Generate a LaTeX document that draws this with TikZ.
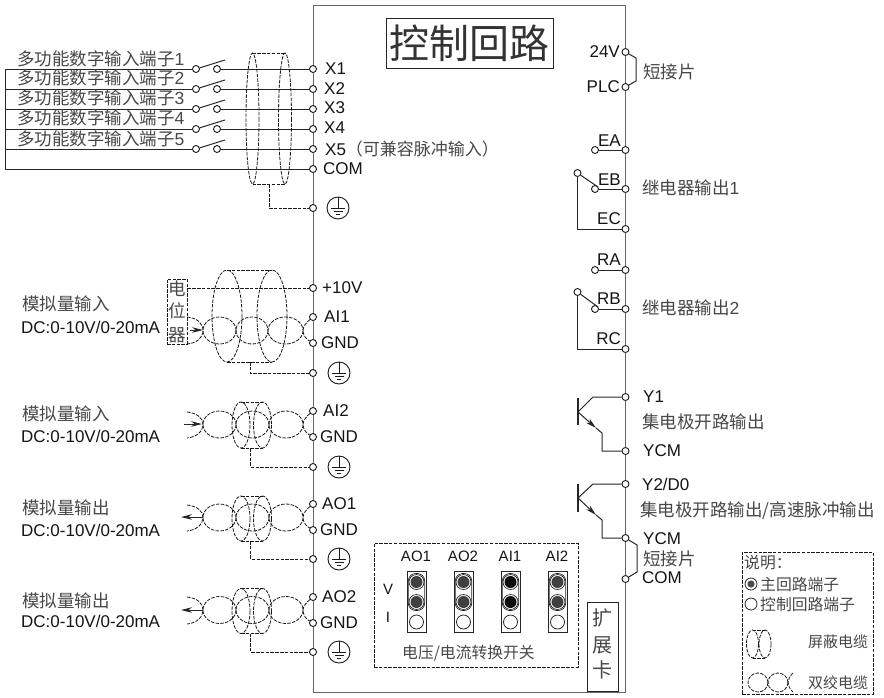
\documentclass[tikz,border=0pt]{standalone}
\usepackage{fontspec}
\setmainfont{Liberation Sans}
\newfontfamily\cjk{Noto Sans CJK SC}
\usetikzlibrary{arrows.meta}

\tikzset{
    wire/.style={draw=black!85, line width=1pt},
    cable/.style={draw=black!90, line width=0.8pt, dash pattern=on 3.5pt off 1.3pt},
    frame/.style={draw=black!60, line width=1.4pt},
    term/.style={draw=black!90, fill=white, circle, line width=0.9pt, minimum size=7pt, inner sep=0pt},
    lab/.style={font=\fontsize{17}{20}\selectfont, text=black!92, inner sep=0pt, anchor=west},
    swlab/.style={font=\fontsize{15}{18}\selectfont, text=black!92, inner sep=0pt, anchor=center},
    han/.style={font=\cjk\fontsize{17.5}{20}\selectfont, text=black!72, inner sep=0pt, anchor=west},
    small han/.style={font=\cjk\fontsize{15.8}{18}\selectfont, text=black!72, inner sep=0pt, anchor=west},
    ground/.style={draw=black!90, circle, line width=0.9pt, minimum size=22pt, inner sep=0pt,
        path picture={
            \draw[black!90, line width=0.9pt]
                ([yshift=11pt]path picture bounding box.center) -- ([yshift=0pt]path picture bounding box.center)
                ([shift={(-7pt,0pt)}]path picture bounding box.center) -- ([shift={(7pt,0pt)}]path picture bounding box.center)
                ([shift={(-4.5pt,-3pt)}]path picture bounding box.center) -- ([shift={(4.5pt,-3pt)}]path picture bounding box.center)
                ([shift={(-2pt,-6pt)}]path picture bounding box.center) -- ([shift={(2pt,-6pt)}]path picture bounding box.center);
        }},
    seton/.style={draw=black!85, fill=white, circle, line width=0.7pt, minimum size=15pt, inner sep=0pt,
        path picture={\fill[black!#1] (path picture bounding box.center) circle (6pt);}},
    setoff/.style={draw=black!85, fill=white, circle, line width=0.8pt, minimum size=14pt, inner sep=0pt},
}

\begin{document}
\begin{tikzpicture}[x=1pt, y=-1pt, >={Stealth[length=11pt,width=5.5pt]}]
    \useasboundingbox (0,0) rectangle (884,697);

    % Body
    \node[frame, minimum width=312pt, minimum height=687pt] (body) at (469.5,349) {};
    \node[draw=black!85, line width=0.8pt, minimum width=167pt, minimum height=50pt, inner sep=0pt,
        font=\cjk\fontsize{40}{42}\selectfont, text=black!80] (title) at (469.5,43) {控制回路};

    % Left terminals
    \node[term] (x1) at (313,69) {};
    \node[term] (x2) at (313,89) {};
    \node[term] (x3) at (313,109) {};
    \node[term] (x4) at (313,129) {};
    \node[term] (x5) at (313,149) {};
    \node[term] (com) at (313,169) {};
    \node[term] (pe1) at (313,208) {};
    \node[term] (p10v) at (313,288) {};
    \node[term] (ai1) at (313,317) {};
    \node[term] (gnd1) at (313,343) {};
    \node[term] (pe2) at (313,373) {};
    \node[term] (ai2) at (313,411) {};
    \node[term] (gnd2) at (313,437) {};
    \node[term] (pe3) at (313,467) {};
    \node[term] (ao1) at (313,504) {};
    \node[term] (gnd3) at (313,530) {};
    \node[term] (pe4) at (313,559) {};
    \node[term] (ao2) at (313,597) {};
    \node[term] (gnd4) at (313,623) {};
    \node[term] (pe5) at (313,652) {};

    % Left terminal labels
    \node[lab] (x1lab) at (325,69) {X1};
    \node[lab] (x2lab) at (324,89) {X2};
    \node[lab] (x3lab) at (324,108) {X3};
    \node[lab] (x4lab) at (324,128) {X4};
    \node[lab] (x5lab) at (325,149) {X5{\cjk\fontsize{17}{20}\selectfont\color{black!72}（可兼容脉冲输入）}};
    \node[lab] (comlab) at (323,169) {COM};
    \node[lab] (p10vlab) at (322,288) {+10V};
    \node[lab] (ai1lab) at (324,317) {AI1};
    \node[lab] (gnd1lab) at (321,343) {GND};
    \node[lab] (ai2lab) at (323,411) {AI2};
    \node[lab] (gnd2lab) at (320,437) {GND};
    \node[lab] (ao1lab) at (322,504) {AO1};
    \node[lab] (gnd3lab) at (320,530) {GND};
    \node[lab] (ao2lab) at (322,597) {AO2};
    \node[lab] (gnd4lab) at (320,623) {GND};

    % Ground marks
    \node[ground] (g1) at (338,208) {};
    \node[ground] (g2) at (339,373) {};
    \node[ground] (g3) at (339,467) {};
    \node[ground] (g4) at (339,559) {};
    \node[ground] (g5) at (339,652) {};

    % Digital inputs
    \coordinate (l1) at (5,69);
    \coordinate (l2) at (5,89);
    \coordinate (l3) at (5,109);
    \coordinate (l4) at (5,129);
    \coordinate (l5) at (5,149);
    \coordinate (l6) at (5,169);
    \node[term] (s1a) at (196,69) {};
    \node[term] (s1b) at (217,69) {};
    \node[term] (s2a) at (196,89) {};
    \node[term] (s2b) at (217,89) {};
    \node[term] (s3a) at (196,109) {};
    \node[term] (s3b) at (217,109) {};
    \node[term] (s4a) at (196,129) {};
    \node[term] (s4b) at (217,129) {};
    \node[term] (s5a) at (196,149) {};
    \node[term] (s5b) at (217,149) {};
    \coordinate (b1) at (225,60);
    \coordinate (b2) at (225,80);
    \coordinate (b3) at (225,100);
    \coordinate (b4) at (225,120);
    \coordinate (b5) at (225,140);
    \draw[wire] (l1) -- (l6) -- (com);
    \draw[wire] (l1) -- (s1a);
    \draw[wire] (l2) -- (s2a);
    \draw[wire] (l3) -- (s3a);
    \draw[wire] (l4) -- (s4a);
    \draw[wire] (l5) -- (s5a);
    \draw[wire] (s1a) -- (b1);
    \draw[wire] (s2a) -- (b2);
    \draw[wire] (s3a) -- (b3);
    \draw[wire] (s4a) -- (b4);
    \draw[wire] (s5a) -- (b5);
    \draw[wire] (s1b) -- (x1);
    \draw[wire] (s2b) -- (x2);
    \draw[wire] (s3b) -- (x3);
    \draw[wire] (s4b) -- (x4);
    \draw[wire] (s5b) -- (x5);
    \node[han] (d1lab) at (17,59) {多功能数字输入端子\rmfamily 1};
    \node[han] (d2lab) at (17,78) {多功能数字输入端子\rmfamily 2};
    \node[han] (d3lab) at (17,98) {多功能数字输入端子\rmfamily 3};
    \node[han] (d4lab) at (17,118) {多功能数字输入端子\rmfamily 4};
    \node[han] (d5lab) at (17,139) {多功能数字输入端子\rmfamily 5};

    % Shield of the digital inputs
    \draw[cable] (252.5,118.5) ellipse (6.5 and 65.5);
    \draw[cable] (285,118.5) ellipse (6.5 and 65.5);
    \draw[cable] (252.5,53) -- (285,53);
    \draw[cable] (252.5,184) -- (285,184);
    \coordinate (drop1) at (269,184);
    \draw[cable] (drop1) |- (pe1);

    % Potentiometer input
    \node[cable, draw, minimum width=20pt, minimum height=65pt, inner sep=0pt] (pot) at (177,311.5) {};
    \node[han, anchor=center] (pot1) at (177,289) {电};
    \node[han, anchor=center] (pot2) at (177,311) {位};
    \node[han, anchor=center] (pot3) at (177,335) {器};
    \draw[cable] (pot.east |- p10v) -- (p10v);
    \draw[cable] (187,317) .. controls (197,318) and (203,323) .. (203,330.5) .. controls (203,338) and (197,343) .. (187,344);
    \draw[cable] (219.5,330.5) ellipse (16.5 and 13.5);
    \draw[cable] (252,330.5) ellipse (16 and 13.5);
    \draw[cable] (285.5,330.5) ellipse (17.5 and 13.5);
    \coordinate (tw1) at (303,330.5);
    \draw[cable] (ai1) .. controls (307,322) and (303,326) .. (tw1) .. controls (303,335) and (306,339) .. (gnd1);
    \coordinate (arr1a) at (190,330);
    \coordinate (arr1b) at (203,330);
    \draw[wire,->] (arr1a) -- (arr1b);
    \draw[cable] (227,316) ellipse (15 and 46);
    \draw[cable] (272,316) ellipse (15 and 46);
    \draw[cable] (227,270) -- (272,270);
    \draw[cable] (227,362) -- (272,362);
    \coordinate (drop2) at (250,362);
    \draw[cable] (drop2) |- (pe2);
    \node[han] (in1lab) at (22,304) {模拟量输入};
    \node[lab] (in1dc) at (21,327) {DC:0-10V/0-20mA};

    % AI2 input
    \draw[cable] (187,412) .. controls (197,413) and (203,418) .. (203,424.5) .. controls (203,431) and (197,437) .. (187,438);
    \draw[cable] (219.5,424.5) ellipse (16.5 and 13.5);
    \draw[cable] (252.5,424.5) ellipse (16.5 and 13.5);
    \draw[cable] (286,424.5) ellipse (17 and 13.5);
    \coordinate (tw2) at (303,424.5);
    \draw[cable] (ai2) .. controls (307,416) and (303,420) .. (tw2) .. controls (303,429) and (306,433) .. (gnd2);
    \coordinate (arr2a) at (184,424);
    \coordinate (arr2b) at (202,424);
    \draw[wire,->] (arr2a) -- (arr2b);
    \draw[cable] (241,425) ellipse (9 and 23);
    \draw[cable] (262.5,425) ellipse (9 and 23);
    \draw[cable] (241,402) -- (262.5,402);
    \draw[cable] (241,448) -- (262.5,448);
    \coordinate (drop3) at (250.5,448);
    \draw[cable] (drop3) |- (pe3);
    \node[han] (in2lab) at (22,414) {模拟量输入};
    \node[lab] (in2dc) at (21,436) {DC:0-10V/0-20mA};

    % AO1 output
    \draw[cable] (187,505) .. controls (197,506) and (203,511) .. (203,517.5) .. controls (203,524) and (197,530) .. (187,531);
    \draw[cable] (219.5,517.5) ellipse (16.5 and 13.5);
    \draw[cable] (252.5,517.5) ellipse (16.5 and 13.5);
    \draw[cable] (286,517.5) ellipse (17 and 13.5);
    \coordinate (tw3) at (303,517.5);
    \draw[cable] (ao1) .. controls (307,509) and (303,513) .. (tw3) .. controls (303,522) and (306,526) .. (gnd3);
    \coordinate (arr3a) at (203,517);
    \coordinate (arr3b) at (181,517);
    \draw[wire,->] (arr3a) -- (arr3b);
    \draw[cable] (241,518.5) ellipse (9 and 22.5);
    \draw[cable] (262.5,518.5) ellipse (9 and 22.5);
    \draw[cable] (241,496) -- (262.5,496);
    \draw[cable] (241,541) -- (262.5,541);
    \coordinate (drop4) at (250.5,541);
    \draw[cable] (drop4) |- (pe4);
    \node[han] (out1lab) at (22,508) {模拟量输出};
    \node[lab] (out1dc) at (21,530) {DC:0-10V/0-20mA};

    % AO2 output
    \draw[cable] (187,597) .. controls (197,598) and (203,603) .. (203,610) .. controls (203,617) and (197,623) .. (187,624);
    \draw[cable] (219.5,610) ellipse (16.5 and 13.5);
    \draw[cable] (252.5,610) ellipse (16.5 and 13.5);
    \draw[cable] (286,610) ellipse (17 and 13.5);
    \coordinate (tw4) at (303,610);
    \draw[cable] (ao2) .. controls (307,602) and (303,606) .. (tw4) .. controls (303,615) and (306,619) .. (gnd4);
    \coordinate (arr4a) at (203,610);
    \coordinate (arr4b) at (181,610);
    \draw[wire,->] (arr4a) -- (arr4b);
    \draw[cable] (241,611) ellipse (9 and 22.5);
    \draw[cable] (262.5,611) ellipse (9 and 22.5);
    \draw[cable] (241,588.5) -- (262.5,588.5);
    \draw[cable] (241,633.5) -- (262.5,633.5);
    \coordinate (drop5) at (250.5,633.5);
    \draw[cable] (drop5) |- (pe5);
    \node[han] (out2lab) at (22,601) {模拟量输出};
    \node[lab] (out2dc) at (21,621) {DC:0-10V/0-20mA};

    % Right terminals
    \node[term] (v24) at (625.5,52) {};
    \node[term] (plc) at (625.5,87) {};
    \node[term] (ea) at (625.5,150) {};
    \node[term] (eb) at (625.5,189) {};
    \node[term] (ec) at (625.5,229) {};
    \node[term] (ra) at (625.5,270) {};
    \node[term] (rb) at (625.5,309) {};
    \node[term] (rc) at (625.5,349) {};
    \node[term] (y1) at (625.5,397) {};
    \node[term] (ycm1) at (625.5,451) {};
    \node[term] (y2) at (625.5,484) {};
    \node[term] (ycm2) at (625.5,538) {};
    \node[term] (com2) at (625.5,579) {};

    % Jumper 24V to PLC
    \coordinate (j1a) at (636,58);
    \coordinate (j1b) at (636,81);
    \draw[wire] (v24) -- (j1a) -- (j1b) -- (plc);
    \node[lab, anchor=east] (v24lab) at (620,52) {24V};
    \node[lab, anchor=east] (plclab) at (620,87) {PLC};
    \node[han] (j1lab) at (643,72) {短接片};

    % Relay 1
    \node[term] (ea0) at (595,150) {};
    \node[term] (eb0) at (595,189) {};
    \node[term] (ep) at (577.5,173) {};
    \coordinate (ep1) at (598,187);
    \coordinate (ep2) at (577.5,229);
    \draw[wire] (ea0) -- (ea);
    \draw[wire] (eb0) -- (eb);
    \draw[wire] (ep) -- (ep1);
    \draw[wire] (ep) -- (ep2) -- (ec);
    \node[lab, anchor=east] (ealab) at (621,141) {EA};
    \node[lab, anchor=east] (eblab) at (621,180) {EB};
    \node[lab, anchor=east] (eclab) at (621,219) {EC};
    \node[han] (r1lab) at (642,188) {继电器输出\rmfamily 1};

    % Relay 2
    \node[term] (ra0) at (595,270) {};
    \node[term] (rb0) at (595,309) {};
    \node[term] (rp) at (577.5,292) {};
    \coordinate (rp1) at (598,307);
    \coordinate (rp2) at (577.5,349);
    \draw[wire] (ra0) -- (ra);
    \draw[wire] (rb0) -- (rb);
    \draw[wire] (rp) -- (rp1);
    \draw[wire] (rp) -- (rp2) -- (rc);
    \node[lab, anchor=east] (ralab) at (621,260) {RA};
    \node[lab, anchor=east] (rblab) at (621,299) {RB};
    \node[lab, anchor=east] (rclab) at (621,339) {RC};
    \node[han] (r2lab) at (642,308) {继电器输出\rmfamily 2};

    % Transistor 1
    \coordinate (t1c) at (593,397);
    \coordinate (t1b) at (578,412);
    \coordinate (t1u) at (578,398);
    \coordinate (t1d) at (578,425);
    \coordinate (t1a) at (596,428);
    \coordinate (t1e) at (602,433);
    \draw[wire] (y1) -- (t1c) -- (t1b);
    \draw[wire, line width=1.2pt] (t1u) -- (t1d);
    \draw[wire,->] (t1b) -- (t1a);
    \draw[wire] (t1a) -- (t1e) |- (ycm1);
    \node[lab] (y1lab) at (643,397) {Y1};
    \node[han] (y1txt) at (642,422) {集电极开路输出};
    \node[lab] (ycm1lab) at (643,451) {YCM};

    % Transistor 2
    \coordinate (t2c) at (593,484);
    \coordinate (t2b) at (578,498);
    \coordinate (t2u) at (578,484);
    \coordinate (t2d) at (578,512);
    \coordinate (t2a) at (596,515);
    \coordinate (t2e) at (602,520);
    \draw[wire] (y2) -- (t2c) -- (t2b);
    \draw[wire, line width=1.2pt] (t2u) -- (t2d);
    \draw[wire,->] (t2b) -- (t2a);
    \draw[wire] (t2a) -- (t2e) |- (ycm2);
    \node[lab] (y2lab) at (642,484) {Y2/D0};
    \node[han] (y2txt) at (640,511) {集电极开路输出/高速脉冲输出};
    \node[lab] (ycm2lab) at (643,539) {YCM};

    % Jumper YCM to COM
    \coordinate (j2a) at (637,545);
    \coordinate (j2b) at (637,572);
    \draw[wire] (ycm2) -- (j2a) -- (j2b) -- (com2);
    \node[han] (j2lab) at (643,559) {短接片};
    \node[lab] (com2lab) at (642,578) {COM};

    % Switches
    \node[cable, draw, minimum width=204pt, minimum height=124pt, inner sep=0pt] (swbox) at (476,605) {};
    \node[swlab] (swao1) at (416,556) {AO1};
    \node[swlab] (swao2) at (463,556) {AO2};
    \node[swlab] (swai1) at (510,556) {AI1};
    \node[swlab] (swai2) at (557,556) {AI2};
    \node[swlab] (swv) at (388,589) {V};
    \node[swlab] (swi) at (388,617) {I};
    \node[wire, draw, minimum width=19pt, minimum height=61pt, inner sep=0pt] (sw1) at (416.5,601.5) {};
    \node[wire, draw, minimum width=19pt, minimum height=61pt, inner sep=0pt] (sw2) at (463.5,601.5) {};
    \node[wire, draw, minimum width=19pt, minimum height=61pt, inner sep=0pt] (sw3) at (510.5,601.5) {};
    \node[wire, draw, minimum width=19pt, minimum height=61pt, inner sep=0pt] (sw4) at (557.5,601.5) {};
    \node[draw=black!85, line width=0.7pt, rounded corners=7.5pt, minimum width=16.5pt, minimum height=37pt, inner sep=0pt] (sw1r) at (416.5,592) {};
    \node[draw=black!85, line width=0.7pt, rounded corners=7.5pt, minimum width=16.5pt, minimum height=37pt, inner sep=0pt] (sw2r) at (463.5,592) {};
    \node[draw=black!85, line width=0.7pt, rounded corners=7.5pt, minimum width=16.5pt, minimum height=37pt, inner sep=0pt] (sw3r) at (510.5,592) {};
    \node[draw=black!85, line width=0.7pt, rounded corners=7.5pt, minimum width=16.5pt, minimum height=37pt, inner sep=0pt] (sw4r) at (557.5,592) {};
    \node[seton=75] (sw1v) at (416.5,582) {};
    \node[seton=75] (sw1m) at (416.5,602) {};
    \node[setoff] (sw1i) at (416.5,622) {};
    \node[seton=75] (sw2v) at (463.5,582) {};
    \node[seton=75] (sw2m) at (463.5,602) {};
    \node[setoff] (sw2i) at (463.5,622) {};
    \node[seton=95] (sw3v) at (510.5,582) {};
    \node[seton=95] (sw3m) at (510.5,602) {};
    \node[setoff] (sw3i) at (510.5,622) {};
    \node[seton=75] (sw4v) at (557.5,582) {};
    \node[seton=75] (sw4m) at (557.5,602) {};
    \node[setoff] (sw4i) at (557.5,622) {};
    \node[small han] (swtxt) at (402,653) {电压/电流转换开关};

    % Expansion card
    \node[draw=black!85, line width=0.8pt, minimum width=31pt, minimum height=89pt, inner sep=0pt] (card) at (602.5,646.5) {};
    \node[han, anchor=center, font=\cjk\fontsize{20}{22}\selectfont] (card1) at (602.5,618) {扩};
    \node[han, anchor=center, font=\cjk\fontsize{20}{22}\selectfont] (card2) at (602.5,645) {展};
    \node[han, anchor=center, font=\cjk\fontsize{20}{22}\selectfont] (card3) at (602.5,670) {卡};

    % Legend
    \node[cable, draw, minimum width=131pt, minimum height=142pt, inner sep=0pt] (legend) at (807.5,623) {};
    \node[small han] (leg0) at (744,563) {说明：};
    \node[draw=black!85, circle, line width=0.8pt, minimum size=12pt, inner sep=0pt,
        path picture={\fill[black!70] (path picture bounding box.center) circle (3.6pt);}] (leg1) at (751,584) {};
    \node[small han] (leg1lab) at (760,584) {主回路端子};
    \node[setoff, minimum size=12pt] (leg2) at (751,604) {};
    \node[small han] (leg2lab) at (760,604) {控制回路端子};
    \draw[cable] (752.5,644) ellipse (6 and 14);
    \draw[cable] (765,644) ellipse (6 and 14);
    \draw[cable] (752.5,630) -- (765,630);
    \draw[cable] (752.5,658) -- (765,658);
    \node[small han, font=\cjk\fontsize{15}{18}\selectfont] (leg3lab) at (808,642) {屏蔽电缆};
    \draw[cable] (758,682.5) ellipse (10 and 9.5);
    \draw[cable] (778,682.5) ellipse (10 and 9.5);
    \draw[cable] (793,673) .. controls (790,676) and (788,679) .. (788,682.5) .. controls (788,686) and (790,689) .. (793,692);
    \node[small han, font=\cjk\fontsize{15}{18}\selectfont] (leg4lab) at (808,683) {双绞电缆};
\end{tikzpicture}
\end{document}
